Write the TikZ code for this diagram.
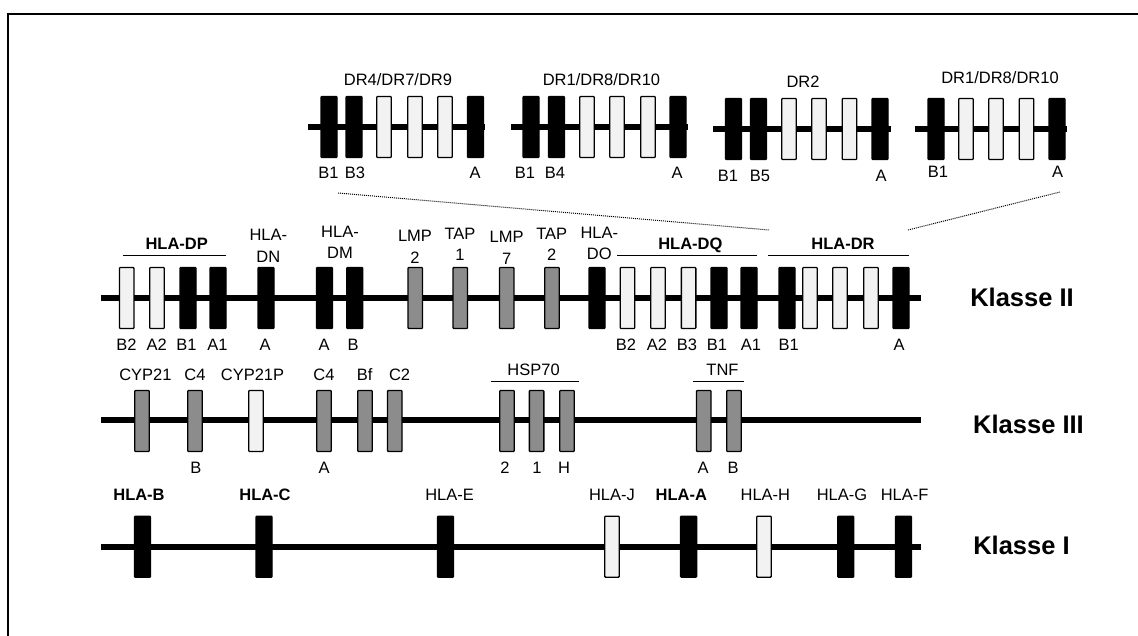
\documentclass[tikz,border=0pt]{standalone}
\usepackage{fontspec}
\setmainfont{Liberation Sans}
\definecolor{lightfill}{RGB}{242,242,242}
\definecolor{midfill}{RGB}{140,140,140}
\tikzset{
 gene/.style={rectangle, inner sep=0pt, minimum height=61pt, line width=1.3pt, rounded corners=0.8pt, draw=black},
 gb/.style={gene, fill=black, minimum width=16pt},
 gw/.style={gene, fill=lightfill, minimum width=14.5pt},
 gg/.style={gene, fill=midfill, minimum width=14.5pt},
 chrom/.style={line width=6.5pt, black},
 lab/.style={font=\fontsize{16.5}{21.5}\selectfont, inner sep=0pt, text height=11.8pt, text depth=0pt},
 lab2/.style={font=\fontsize{16.5}{21.5}\selectfont, inner sep=0pt, align=center},
 blab/.style={lab, font=\fontsize{16.5}{21.5}\selectfont\bfseries},
 klasse/.style={font=\fontsize{25.5}{30}\selectfont\bfseries, inner sep=0pt, text height=18.3pt, text depth=0pt},
 oline/.style={line width=1pt},
 dotl/.style={line width=1pt, dash pattern=on 1pt off 1pt},
 frameline/.style={line width=1.5pt},
}
\begin{document}
\begin{tikzpicture}[x=1pt,y=-1pt]
\useasboundingbox (0,0) rectangle (1138,636);
% frame
\coordinate (fr1) at (8,640); \coordinate (fr2) at (8,14); \coordinate (fr3) at (1140,14);
\draw[frameline] (fr1) -- (fr2) -- (fr3);

% ---------- DR haplotypes ----------
% group 1
\coordinate (g1s) at (308,127); \coordinate (g1e) at (485,127);
\draw[chrom] (g1s) -- (g1e);
\node[gb] (g1a) at (329,127) {};
\node[gb] (g1b) at (354,127) {};
\node[gw] (g1c) at (384,127) {};
\node[gw] (g1d) at (415,127) {};
\node[gw] (g1f) at (445,127) {};
\node[gb] (g1g) at (475.5,127) {};
\node[lab] (g1t) at (398,80) {DR4/DR7/DR9};
\node[lab] (g1l1) at (328.5,173) {B1};
\node[lab] (g1l2) at (355,173) {B3};
\node[lab] (g1l3) at (475,173) {A};
% group 2
\coordinate (g2s) at (511,127); \coordinate (g2e) at (688,127);
\draw[chrom] (g2s) -- (g2e);
\node[gb] (g2a) at (531,127) {};
\node[gb] (g2b) at (556.5,127) {};
\node[gw] (g2c) at (587,127) {};
\node[gw] (g2d) at (617,127) {};
\node[gw] (g2f) at (648,127) {};
\node[gb] (g2g) at (678,127) {};
\node[lab] (g2t) at (601.5,80) {DR1/DR8/DR10};
\node[lab] (g2l1) at (525,173) {B1};
\node[lab] (g2l2) at (555,173) {B4};
\node[lab] (g2l3) at (677,173) {A};
% group 3
\coordinate (g3s) at (713,129); \coordinate (g3e) at (891,129);
\draw[chrom] (g3s) -- (g3e);
\node[gb] (g3a) at (733.5,129) {};
\node[gb] (g3b) at (758.5,129) {};
\node[gw] (g3c) at (789,129) {};
\node[gw] (g3d) at (819,129) {};
\node[gw] (g3f) at (849.5,129) {};
\node[gb] (g3g) at (880,129) {};
\node[lab] (g3t) at (803,82) {DR2};
\node[lab] (g3l1) at (728,176) {B1};
\node[lab] (g3l2) at (760,176) {B5};
\node[lab] (g3l3) at (881,176) {A};
% group 4
\coordinate (g4s) at (915,129); \coordinate (g4e) at (1067,129);
\draw[chrom] (g4s) -- (g4e);
\node[gb] (g4a) at (936,129) {};
\node[gw] (g4c) at (966,129) {};
\node[gw] (g4d) at (996,129) {};
\node[gw] (g4f) at (1026.5,129) {};
\node[gb] (g4g) at (1057,129) {};
\node[lab] (g4t) at (1000,78) {DR1/DR8/DR10};
\node[lab] (g4l1) at (938,172) {B1};
\node[lab] (g4l3) at (1057.5,172) {A};

% dotted zoom lines
\coordinate (dla) at (338,193); \coordinate (dlb) at (769,230);
\coordinate (dra) at (908,230); \coordinate (drb) at (1060,192);
\draw[dotl] (dla) -- (dlb);
\draw[dotl] (dra) -- (drb);

% ---------- Klasse II ----------
\coordinate (c2s) at (101,298); \coordinate (c2e) at (921,298);
\draw[chrom] (c2s) -- (c2e);
\node[gw] (dpb2) at (126.7,298) {};
\node[gw] (dpa2) at (157,298) {};
\node[gb] (dpb1) at (188,298) {};
\node[gb] (dpa1) at (218,298) {};
\node[gb] (dn) at (266,298) {};
\node[gb] (dma) at (324.5,298) {};
\node[gb] (dmb) at (354.7,298) {};
\node[gg] (lmp2) at (415.3,298) {};
\node[gg] (tap1) at (460.3,298) {};
\node[gg] (lmp7) at (506.7,298) {};
\node[gg] (tap2) at (552,298) {};
\node[gb] (do) at (597,298) {};
\node[gw] (dqb2) at (627.5,298) {};
\node[gw] (dqa2) at (658,298) {};
\node[gw] (dqb3) at (688.6,298) {};
\node[gb] (dqb1) at (719,298) {};
\node[gb] (dqa1) at (749,298) {};
\node[gb] (drb1) at (787,298) {};
\node[gw] (drw1) at (810,298) {};
\node[gw] (drw2) at (840,298) {};
\node[gw] (drw3) at (871,298) {};
\node[gb] (dra1) at (901,298) {};

\node[blab] (tdp) at (176.7,243.3) {HLA-DP};
\coordinate (odp1) at (123,255.7); \coordinate (odp2) at (226,255.7);
\draw[oline] (odp1) -- (odp2);
\node[blab] (tdq) at (690.4,243.3) {HLA-DQ};
\coordinate (odq1) at (617,255.7); \coordinate (odq2) at (757,255.7);
\draw[oline] (odq1) -- (odq2);
\node[blab] (tdr) at (843,243.3) {HLA-DR};
\coordinate (odr1) at (768,255.7); \coordinate (odr2) at (909,255.7);
\draw[oline] (odr1) -- (odr2);

\node[lab2] (tdn) at (268.3,245.8) {HLA-\\DN};
\node[lab2] (tdm) at (340,242.5) {HLA-\\DM};
\node[lab2] (tlmp2) at (415,246.7) {LMP\\2};
\node[lab2] (ttap1) at (460,244.5) {TAP\\1};
\node[lab2] (tlmp7) at (506.7,247.8) {LMP\\7};
\node[lab2] (ttap2) at (551.7,244.5) {TAP\\2};
\node[lab2] (tdo) at (599.3,243.3) {HLA-\\DO};

\node[lab] (l2a) at (126.4,345) {B2};
\node[lab] (l2b) at (156.8,345) {A2};
\node[lab] (l2c) at (186.5,345) {B1};
\node[lab] (l2d) at (217.5,345) {A1};
\node[lab] (l2e) at (265,345) {A};
\node[lab] (l2f) at (324,345) {A};
\node[lab] (l2g) at (353,345) {B};
\node[lab] (l2h) at (626,345) {B2};
\node[lab] (l2i) at (657,345) {A2};
\node[lab] (l2j) at (687,345) {B3};
\node[lab] (l2k) at (717,345) {B1};
\node[lab] (l2l) at (751,345) {A1};
\node[lab] (l2m) at (788.6,345) {B1};
\node[lab] (l2n) at (899,345) {A};

\node[klasse] (k2) at (1022,297) {Klasse II};

% ---------- Klasse III ----------
\coordinate (c3s) at (101,420); \coordinate (c3e) at (921,420);
\draw[chrom] (c3s) -- (c3e);
\node[gg] (cyp21) at (142,421) {};
\node[gg] (c4b) at (195,421) {};
\node[gw] (cyp21p) at (256,421) {};
\node[gg] (c4a) at (324,421) {};
\node[gg] (bf) at (365,421) {};
\node[gg] (c2) at (394.8,421) {};
\node[gg] (hsp2) at (507,421) {};
\node[gg] (hsp1) at (536.6,421) {};
\node[gg] (hsph) at (567,421) {};
\node[gg] (tnfa) at (703.8,421) {};
\node[gg] (tnfb) at (734,421) {};

\node[lab] (t3a) at (145.4,375) {CYP21};
\node[lab] (t3b) at (195,375) {C4};
\node[lab] (t3c) at (252.5,375) {CYP21P};
\node[lab] (t3d) at (324,375) {C4};
\node[lab] (t3e) at (364.6,375) {Bf};
\node[lab] (t3f) at (399.6,375) {C2};
\node[lab] (thsp) at (533.6,370) {HSP70};
\coordinate (ohs1) at (490.7,381.7); \coordinate (ohs2) at (579.3,381.7);
\draw[oline] (ohs1) -- (ohs2);
\node[lab] (ttnf) at (722.5,370) {TNF};
\coordinate (otn1) at (693,381.7); \coordinate (otn2) at (744,381.7);
\draw[oline] (otn1) -- (otn2);

\node[lab] (l3a) at (196,468) {B};
\node[lab] (l3b) at (324,468) {A};
\node[lab] (l3c) at (505,468) {2};
\node[lab] (l3d) at (537,468) {1};
\node[lab] (l3e) at (564,468) {H};
\node[lab] (l3f) at (703,468) {A};
\node[lab] (l3g) at (733,468) {B};

\node[klasse] (k3) at (1028.5,424) {Klasse III};

% ---------- Klasse I ----------
\coordinate (c1s) at (101,547); \coordinate (c1e) at (921,547);
\draw[chrom] (c1s) -- (c1e);
\node[gb] (hb) at (142.5,546.7) {};
\node[gb] (hc) at (264,546.7) {};
\node[gb] (he) at (445.5,546.7) {};
\node[gw] (hj) at (612,546.7) {};
\node[gb] (ha) at (688.6,546.7) {};
\node[gw] (hh) at (764,546.7) {};
\node[gb] (hg) at (845.7,546.7) {};
\node[gb] (hf) at (903.5,546.7) {};

\node[blab] (thb) at (139,495) {HLA-B};
\node[blab] (thc) at (265,495) {HLA-C};
\node[lab] (the) at (449.6,495) {HLA-E};
\node[lab] (thj) at (612,495) {HLA-J};
\node[blab] (tha) at (681.4,495) {HLA-A};
\node[lab] (thh) at (765.4,495) {HLA-H};
\node[lab] (thg) at (842,495) {HLA-G};
\node[lab] (thf) at (904.6,495) {HLA-F};

\node[klasse] (k1) at (1021.5,545) {Klasse I};
\end{tikzpicture}
\end{document}
